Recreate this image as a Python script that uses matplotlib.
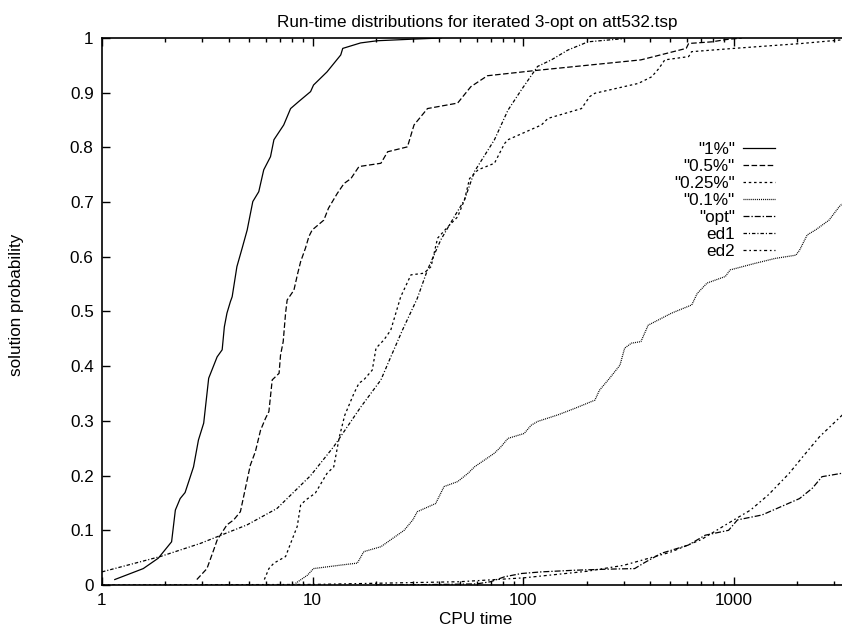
import matplotlib
matplotlib.use("Agg")
import matplotlib.pyplot as plt
from matplotlib import ticker

plt.rcParams["font.family"] = ["Liberation Sans", "DejaVu Sans"]
plt.rcParams["font.size"] = 12.3
plt.rcParams["lines.scale_dashes"] = False

# run-time distributions (CPU time, solution probability)
t_1pct = [1.15, 1.57, 1.85, 2.14, 2.23, 2.35, 2.48, 2.58, 2.72, 2.87, 3.04, 3.21, 3.52,
          3.72, 3.81, 3.92, 4.07, 4.15, 4.37, 4.63, 4.89, 5.03, 5.20, 5.55, 5.86, 6.31,
          6.55, 7.29, 7.86, 8.6, 9.78, 10.1, 11.7, 13.6, 13.9, 16.9, 20.3, 30.3, 40.7]
p_1pct = [0.01, 0.03, 0.049, 0.079, 0.137, 0.158, 0.169, 0.189, 0.216, 0.265, 0.296, 0.378,
          0.417, 0.43, 0.472, 0.497, 0.518, 0.527, 0.582, 0.616, 0.649, 0.673, 0.701, 0.719,
          0.759, 0.783, 0.814, 0.841, 0.871, 0.884, 0.902, 0.914, 0.938, 0.969, 0.981, 0.991,
          0.995, 0.998, 1.0]

t_05pct = [2.82, 3.15, 3.39, 3.52, 3.92, 4.22, 4.54, 4.7, 5.06, 5.35, 5.66, 5.98, 6.2, 6.43,
           6.93, 7.04, 7.25, 7.44, 7.57, 8.15, 8.5, 8.77, 9.25, 9.6, 9.95, 11.3, 11.9, 13.1,
           14.1, 15.2, 16.6, 21.1, 22.7, 28.2, 30.3, 35.1, 48.8, 56.4, 67.6, 117, 362, 594,
           610, 788, 912, 1090]
p_05pct = [0.01, 0.03, 0.064, 0.082, 0.11, 0.119, 0.134, 0.161, 0.219, 0.244, 0.283, 0.305,
           0.317, 0.375, 0.387, 0.42, 0.445, 0.497, 0.521, 0.539, 0.57, 0.591, 0.616, 0.637,
           0.649, 0.667, 0.689, 0.716, 0.734, 0.743, 0.765, 0.771, 0.792, 0.801, 0.841, 0.871,
           0.881, 0.911, 0.931, 0.941, 0.96, 0.981, 0.99, 0.993, 0.997, 1.0]

t_025pct = [5.9, 6.2, 6.55, 7.44, 7.86, 8.45, 8.77, 9.25, 10.3, 11.7, 12.6, 13.4, 14.2, 15.7,
            16.6, 17.5, 19.2, 20.0, 21.8, 23.5, 26.2, 29.3, 33.8, 36.5, 39.2, 43.9, 48.8,
            52.6, 55.6, 61, 73, 81.5, 84.6, 122, 131, 189, 207, 219, 352, 407, 440, 470, 610,
            630, 1000, 2100, 3340]
p_025pct = [0.01, 0.03, 0.04, 0.052, 0.076, 0.107, 0.146, 0.155, 0.168, 0.204, 0.216, 0.271,
            0.31, 0.35, 0.369, 0.375, 0.393, 0.433, 0.448, 0.466, 0.527, 0.567, 0.57, 0.582,
            0.634, 0.655, 0.673, 0.704, 0.743, 0.759, 0.771, 0.807, 0.814, 0.841, 0.853,
            0.871, 0.893, 0.899, 0.917, 0.929, 0.944, 0.96, 0.966, 0.975, 0.981, 0.99, 0.997]

t_01pct = [8.3, 9.45, 10.1, 14.0, 16.3, 17.5, 21.1, 27.2, 29.9, 31.4, 38.4, 40.6, 42.1, 48.8,
           54.6, 58.7, 73, 78.5, 84.6, 101, 109, 117, 146, 176, 219, 230, 257, 288, 303, 326,
           362, 392, 506, 631, 670, 746, 911, 960, 1260, 1570, 1970, 2050, 2230, 2440, 2830,
           3170, 3340]
p_01pct = [0.003, 0.018, 0.03, 0.037, 0.04, 0.061, 0.07, 0.1, 0.119, 0.134, 0.149, 0.168,
           0.18, 0.189, 0.204, 0.216, 0.241, 0.253, 0.268, 0.277, 0.292, 0.299, 0.311, 0.323,
           0.338, 0.356, 0.378, 0.402, 0.433, 0.442, 0.445, 0.475, 0.497, 0.512, 0.533, 0.552,
           0.564, 0.576, 0.588, 0.597, 0.603, 0.612, 0.64, 0.649, 0.667, 0.692, 0.70]

t_opt = [20, 40, 60, 70, 81.5, 98, 122, 176, 253, 338, 377, 453, 608, 731, 944, 1040, 1360,
         2050, 2360, 2620, 3340]
p_opt = [0.0, 0.001, 0.002, 0.006, 0.015, 0.021, 0.024, 0.027, 0.029, 0.03, 0.041, 0.058,
         0.073, 0.091, 0.1, 0.119, 0.128, 0.158, 0.177, 0.198, 0.205]

t_ed1 = [1.0, 1.89, 2.93, 4.89, 6.78, 9.78, 12.6, 16.9, 21.1, 23.5, 26.7, 31.4, 35.1, 40.6,
         47, 52.6, 58.7, 73, 84.6, 97.9, 117, 136, 163, 203, 303]
p_ed1 = [0.024, 0.052, 0.076, 0.11, 0.14, 0.2, 0.253, 0.325, 0.375, 0.417, 0.466, 0.524,
         0.576, 0.631, 0.673, 0.704, 0.756, 0.814, 0.868, 0.905, 0.948, 0.96, 0.978, 0.993,
         0.999]

t_ed2 = [1, 10, 50, 100, 200, 300, 500, 700, 1000, 1200, 1460, 1830, 2130, 2550, 3340]
p_ed2 = [0.0, 0.001, 0.006, 0.013, 0.025, 0.036, 0.06, 0.083, 0.119, 0.137, 0.165, 0.204,
         0.235, 0.271, 0.314]

series = [
    ('"1%"', t_1pct, p_1pct, "-"),
    ('"0.5%"', t_05pct, p_05pct, (0, (4, 1.8))),
    ('"0.25%"', t_025pct, p_025pct, (0, (1.8, 2))),
    ('"0.1%"', t_01pct, p_01pct, (0, (0.7, 0.7))),
    ('"opt"', t_opt, p_opt, (0, (4.3, 1.4, 1, 1.4))),
    ("ed1", t_ed1, p_ed1, (0, (2.5, 1.4, 0.8, 1.4))),
    ("ed2", t_ed2, p_ed2, (0, (2.2, 2, 1.2, 2))),
]

W, H = 842, 627
fig = plt.figure(figsize=(W / 100, H / 100), dpi=100)
ax = fig.add_axes([102 / W, 42 / H, (850 - 102) / W, 547 / H])

for label, t, p, ls in series:
    ax.plot(t, p, color="black", lw=0.9, linestyle=ls, label=label)

ax.set_xscale("log")
ax.set_xlim(1, 3560)
ax.set_ylim(0, 1)
ax.xaxis.set_major_locator(ticker.FixedLocator([1, 10, 100, 1000]))
ax.xaxis.set_major_formatter(ticker.FuncFormatter(lambda v, _: f"{v:g}"))
ax.xaxis.set_minor_locator(ticker.LogLocator(base=10, subs=range(2, 10)))
ax.xaxis.set_minor_formatter(ticker.NullFormatter())
ax.yaxis.set_major_locator(ticker.MultipleLocator(0.1))
ax.yaxis.set_major_formatter(ticker.FuncFormatter(lambda v, _: f"{v:g}"))

ax.tick_params(which="both", direction="in", top=True, right=True, width=1.0, pad=6)
ax.tick_params(which="major", length=5.5)
ax.tick_params(which="minor", length=3)
for s in ax.spines.values():
    s.set_linewidth(1.2)

ax.legend(loc="upper right", bbox_to_anchor=(775 / W, 1 - 141.5 / H),
          bbox_transform=fig.transFigure, frameon=False, markerfirst=False,
          borderpad=0, borderaxespad=0, handlelength=1.9, handletextpad=0.45,
          labelspacing=0.12)

fig.text(477 / W, 1 - 27 / H, "Run-time distributions for iterated 3-opt on att532.tsp",
         ha="center", va="baseline")
fig.text(476 / W, 3.5 / H, "CPU time", ha="center", va="baseline")
fig.text(17 / W, 1 - 305 / H, "solution probability", rotation=90, ha="center", va="center")

fig.savefig("out.png", dpi=100)
